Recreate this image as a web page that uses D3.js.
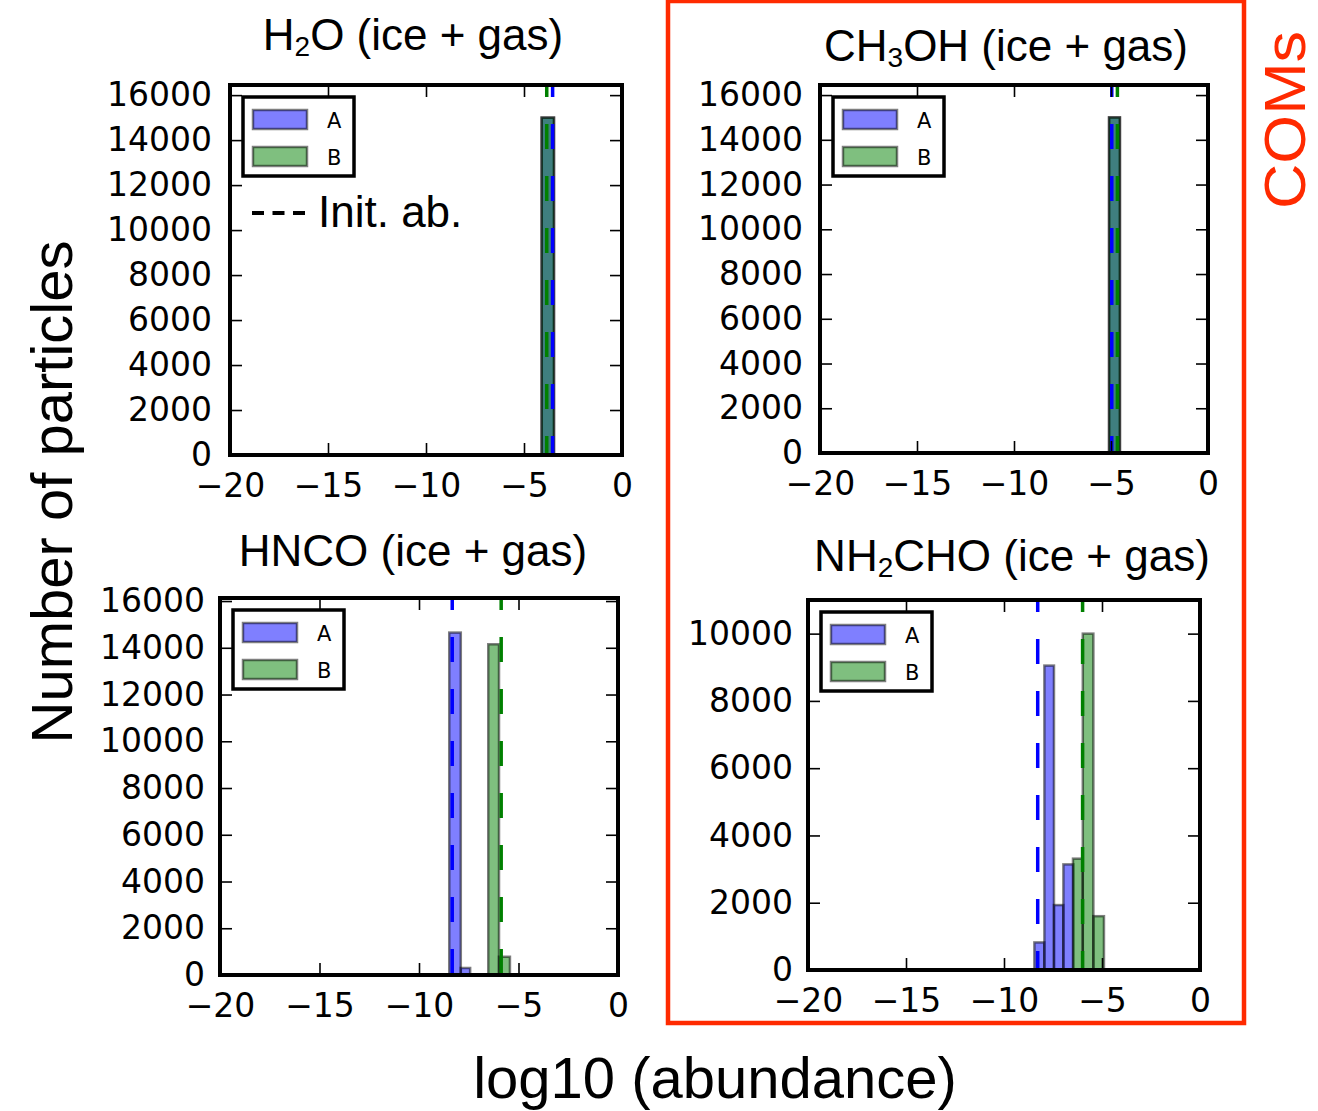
<html>
<head>
<meta charset="utf-8">
<script src="https://d3js.org/d3.v7.min.js"></script>
<style>
  body { margin: 0; background: #fff; }
  svg { display: block; }
  .tick text { font-family: "DejaVu Sans", sans-serif; font-size: 33px; fill: #000; }
  .tick line { stroke: #000; stroke-width: 1.6px; }
  .title { font-family: "Liberation Sans", Arial, sans-serif; font-size: 44px; }
  .big { font-family: "Liberation Sans", Arial, sans-serif; font-size: 58px; }
  .leg { font-family: "DejaVu Sans", sans-serif; font-size: 21px; }
</style>
</head>
<body>
<script>
// ---- data ----
var titleMain = ["H", "CH", "HNCO", "NH"];
var titleSub = ["2", "3", "", "2"];
var titleTail = ["O", "OH", "", "CHO"];
var titleSuffix = " (ice + gas)";

var xTicks = [-20, -15, -10, -5, 0];
var yTicksBig = [0, 2000, 4000, 6000, 8000, 10000, 12000, 14000, 16000];
var yTicksSmall = [0, 2000, 4000, 6000, 8000, 10000];
var yMax = [16450, 16450, 16130, 11000];

// histogram bin edges and counts, series A
var edgesA = [
  [-4.10, -3.47],
  [-5.10, -4.54],
  [-8.48, -7.90, -7.43],
  [-8.45, -7.94, -7.45, -6.97, -6.46]
];
var countsA = [
  [15000],
  [15000],
  [14650, 300],
  [820, 9050, 1930, 3140]
];
// series B
var edgesB = [
  [-4.10, -3.47],
  [-5.10, -4.54],
  [-6.52, -5.98, -5.43],
  [-6.48, -5.98, -5.44, -4.90]
];
var countsB = [
  [15000],
  [15000],
  [14150, 780],
  [3310, 10000, 1600]
];
// initial abundances (dashed lines)
var initA = [-3.54, -4.96, -8.33, -8.28];
var initB = [-3.84, -4.67, -5.87, -5.99];
var seriesNames = ["A", "B"];

// ---- layout ----
var W = 1318, H = 1111;
var boxes = [
  {l: 230, r: 622, t: 85, b: 455, tx: 413, ty: 50, ypad: 18},
  {l: 820, r: 1208, t: 85, b: 453, tx: 1006, ty: 61, ypad: 17},
  {l: 220, r: 618, t: 598, b: 975, tx: 413, ty: 566, ypad: 15},
  {l: 808, r: 1200, t: 600, b: 970, tx: 1012, ty: 571, ypad: 15}
];
var fillA = "rgba(0,0,255,0.5)", fillB = "rgba(0,128,0,0.5)";

var svg = d3.select("body").append("svg").attr("width", W).attr("height", H);
var defs = svg.append("defs");

boxes.forEach(function (bx, i) {
  var x = d3.scaleLinear().domain([-20, 0]).range([bx.l, bx.r]);
  var y = d3.scaleLinear().domain([0, yMax[i]]).range([bx.b, bx.t]);
  var yt = i == 3 ? yTicksSmall : yTicksBig;

  defs.append("clipPath").attr("id", "clip" + i).append("rect")
    .attr("x", bx.l).attr("y", bx.t).attr("width", bx.r - bx.l).attr("height", bx.b - bx.t);

  var g = svg.append("g");
  var plot = g.append("g").attr("clip-path", "url(#clip" + i + ")");

  function bars(edges, counts, fill) {
    plot.selectAll(null).data(counts).enter().append("rect")
      .attr("x", function (d, k) { return x(edges[k]); })
      .attr("width", function (d, k) { return x(edges[k + 1]) - x(edges[k]); })
      .attr("y", function (d) { return y(d); })
      .attr("height", function (d) { return y(0) - y(d); })
      .attr("fill", fill)
      .attr("stroke", "rgba(0,0,0,0.5)")
      .attr("stroke-width", 2.5);
  }
  bars(edgesA[i], countsA[i], fillA);
  bars(edgesB[i], countsB[i], fillB);

  [[initA[i], "#0000ff"], [initB[i], "#008000"]].forEach(function (p) {
    plot.append("line")
      .attr("x1", x(p[0])).attr("x2", x(p[0]))
      .attr("y1", bx.t).attr("y2", bx.b)
      .attr("stroke", p[1]).attr("stroke-width", 3.5)
      .attr("stroke-dasharray", "25,27").attr("stroke-dashoffset", 13);
  });

  // axes with inward ticks
  var fmt = d3.format("d");
  g.append("g").attr("transform", "translate(0," + bx.b + ")")
    .call(d3.axisBottom(x).tickValues(xTicks).tickFormat(fmt).tickSize(-12).tickPadding(18.5))
    .call(function (a) { a.select(".domain").remove(); });
  g.append("g").attr("transform", "translate(0," + bx.t + ")")
    .call(d3.axisTop(x).tickValues(xTicks).tickFormat("").tickSize(-12))
    .call(function (a) { a.select(".domain").remove(); });
  g.append("g").attr("transform", "translate(" + bx.l + ",0)")
    .call(d3.axisLeft(y).tickValues(yt).tickFormat(fmt).tickSize(-12).tickPadding(bx.ypad))
    .call(function (a) { a.select(".domain").remove(); });
  g.append("g").attr("transform", "translate(" + bx.r + ",0)")
    .call(d3.axisRight(y).tickValues(yt).tickFormat("").tickSize(-12))
    .call(function (a) { a.select(".domain").remove(); });
  g.selectAll(".tick text").attr("font-family", null).attr("font-size", null);

  g.append("rect")
    .attr("x", bx.l).attr("y", bx.t).attr("width", bx.r - bx.l).attr("height", bx.b - bx.t)
    .attr("fill", "none").attr("stroke", "#000").attr("stroke-width", 4);

  // title
  var t = g.append("text").attr("class", "title")
    .attr("x", bx.tx).attr("y", bx.ty).attr("text-anchor", "middle");
  t.append("tspan").text(titleMain[i]);
  if (titleSub[i]) {
    t.append("tspan").attr("font-size", "28px").attr("dy", 6).text(titleSub[i]);
    t.append("tspan").attr("dy", -6).text(titleTail[i] + titleSuffix);
  } else {
    t.append("tspan").text(titleSuffix);
  }

  // legend
  var lx = bx.l + 13, ly = bx.t + 12;
  var leg = g.append("g");
  leg.append("rect").attr("x", lx).attr("y", ly).attr("width", 111).attr("height", 79)
    .attr("fill", "#fff").attr("stroke", "#000").attr("stroke-width", 3.5);
  leg.selectAll(null).data(seriesNames).enter().append("rect")
    .attr("x", lx + 10).attr("y", function (d, k) { return ly + 13 + k * 37; })
    .attr("width", 54).attr("height", 19)
    .attr("fill", function (d, k) { return k ? fillB : fillA; })
    .attr("stroke", "rgba(0,0,0,0.5)").attr("stroke-width", 2.5);
  leg.selectAll(null).data(seriesNames).enter().append("text").attr("class", "leg")
    .attr("x", lx + 84).attr("y", function (d, k) { return ly + 31 + k * 37; })
    .text(function (d) { return d; });

  if (i == 0) {
    g.append("line").attr("x1", 252).attr("x2", 305).attr("y1", 213).attr("y2", 213)
      .attr("stroke", "#000").attr("stroke-width", 4).attr("stroke-dasharray", "12,8.5");
    g.append("text").attr("class", "title").attr("font-size", "36px")
      .attr("x", 318).attr("y", 227).text("Init. ab.");
  }
});

// shared labels
svg.append("text").attr("class", "big").attr("text-anchor", "middle")
  .attr("transform", "translate(72,492) rotate(-90)").text("Number of particles");
svg.append("text").attr("class", "big").attr("text-anchor", "middle")
  .attr("x", 715).attr("y", 1098).text("log10 (abundance)");

// COMs frame
svg.append("rect").attr("x", 668).attr("y", 1).attr("width", 576).attr("height", 1022)
  .attr("fill", "none").attr("stroke", "#ff2a00").attr("stroke-width", 4.5);
svg.append("text").attr("class", "big").attr("font-size", "46px").attr("fill", "#ff2a00")
  .attr("text-anchor", "middle").attr("textLength", 178).attr("lengthAdjust", "spacingAndGlyphs")
  .attr("transform", "translate(1305,120) rotate(-90)").text("COMs");
</script>
</body>
</html>
